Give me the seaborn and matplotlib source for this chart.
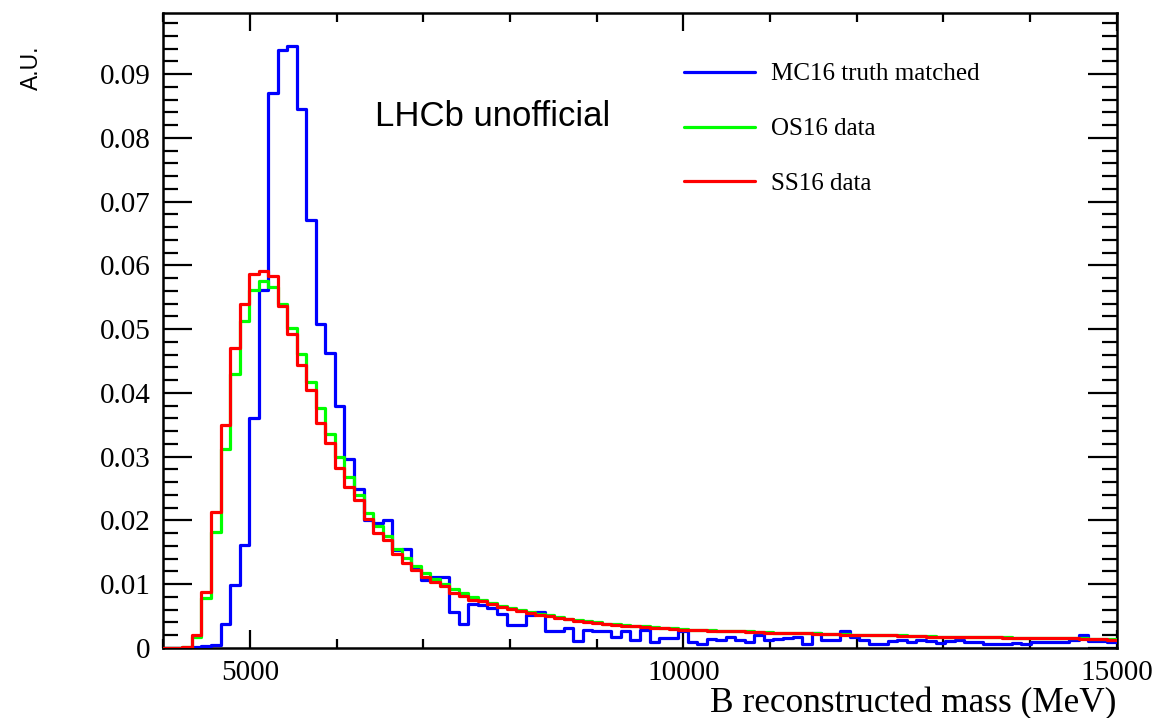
import numpy as np
import pandas as pd
import matplotlib
matplotlib.use("Agg")
import matplotlib.pyplot as plt
from matplotlib.lines import Line2D
from matplotlib.ticker import MultipleLocator, FixedLocator
import seaborn as sns

# Binning of the reconstructed B mass: 100 bins of 110 MeV from 4000 to 15000 MeV
mass_min = 4000.0
mass_max = 15000.0
n_bins = 100

# Normalised bin contents (A.U.)
mc16_truth = [
    0.0, 0.0, 0.0, 0.0002, 0.0003, 0.0005, 0.0038, 0.0099, 0.0161, 0.0360,
    0.0562, 0.0871, 0.0938, 0.0944, 0.0846, 0.0672, 0.0508, 0.0463, 0.0380, 0.0296,
    0.0250, 0.0200, 0.0196, 0.0201, 0.0154, 0.0156, 0.0124, 0.0106, 0.0111, 0.0111,
    0.0056, 0.0037, 0.0069, 0.0068, 0.0062, 0.0054, 0.0036, 0.0036, 0.0052, 0.0057,
    0.0027, 0.0027, 0.0031, 0.0011, 0.0028, 0.0027, 0.0027, 0.0017, 0.0026, 0.0012,
    0.0028, 0.0010, 0.0015, 0.0015, 0.0026, 0.0010, 0.0006, 0.0014, 0.0013, 0.0017,
    0.0012, 0.0010, 0.0020, 0.0012, 0.0014, 0.0016, 0.0018, 0.0007, 0.0024, 0.0013,
    0.0013, 0.0027, 0.0017, 0.0013, 0.0007, 0.0006, 0.0011, 0.0012, 0.0010, 0.0012,
    0.0011, 0.0008, 0.0011, 0.0012, 0.0009, 0.0009, 0.0006, 0.0006, 0.0006, 0.0008,
    0.0006, 0.0010, 0.0010, 0.0009, 0.0009, 0.0012, 0.0021, 0.0011, 0.0011, 0.0010,
]
os16_data = [
    0.0, 0.0, 0.0001, 0.0017, 0.0078, 0.0182, 0.0312, 0.0429, 0.0513, 0.0561,
    0.0575, 0.0566, 0.0539, 0.0502, 0.0461, 0.0418, 0.0376, 0.0336, 0.0299, 0.0268,
    0.0240, 0.0212, 0.0191, 0.0175, 0.0155, 0.0141, 0.0128, 0.0117, 0.0108, 0.0100,
    0.0092, 0.0086, 0.0080, 0.0075, 0.0071, 0.0066, 0.0063, 0.0060, 0.0056, 0.0053,
    0.0051, 0.0048, 0.0046, 0.0044, 0.0042, 0.0040, 0.0038, 0.0037, 0.0036, 0.0035,
    0.0034, 0.0033, 0.0032, 0.0031, 0.0030, 0.0029, 0.0029, 0.0028, 0.0027, 0.0027,
    0.0026, 0.0026, 0.0025, 0.0025, 0.0024, 0.0024, 0.0023, 0.0023, 0.0023, 0.0022,
    0.0022, 0.0022, 0.0021, 0.0021, 0.0021, 0.0020, 0.0020, 0.0020, 0.0019, 0.0019,
    0.0019, 0.0018, 0.0018, 0.0018, 0.0018, 0.0017, 0.0017, 0.0017, 0.0017, 0.0016,
    0.0016, 0.0016, 0.0016, 0.0015, 0.0015, 0.0015, 0.0015, 0.0014, 0.0014, 0.0014,
]
ss16_data = [
    0.0, 0.0, 0.0001, 0.0020, 0.0088, 0.0214, 0.0350, 0.0470, 0.0540, 0.0587,
    0.0591, 0.0583, 0.0536, 0.0493, 0.0444, 0.0405, 0.0353, 0.0321, 0.0283, 0.0253,
    0.0232, 0.0203, 0.0180, 0.0170, 0.0147, 0.0133, 0.0122, 0.0112, 0.0104, 0.0097,
    0.0087, 0.0081, 0.0076, 0.0073, 0.0069, 0.0064, 0.0061, 0.0058, 0.0055, 0.0052,
    0.0050, 0.0047, 0.0045, 0.0043, 0.0041, 0.0039, 0.0037, 0.0036, 0.0035, 0.0034,
    0.0033, 0.0032, 0.0031, 0.0030, 0.0029, 0.0029, 0.0028, 0.0027, 0.0027, 0.0026,
    0.0026, 0.0025, 0.0025, 0.0024, 0.0024, 0.0023, 0.0023, 0.0023, 0.0022, 0.0022,
    0.0022, 0.0021, 0.0021, 0.0021, 0.0020, 0.0020, 0.0020, 0.0019, 0.0019, 0.0019,
    0.0018, 0.0018, 0.0018, 0.0018, 0.0017, 0.0017, 0.0017, 0.0017, 0.0016, 0.0016,
    0.0016, 0.0016, 0.0015, 0.0015, 0.0015, 0.0015, 0.0014, 0.0014, 0.0014, 0.0013,
]

series_labels = ["MC16 truth matched", "OS16 data", "SS16 data"]
series_colors = ["#0000ff", "#00ff00", "#ff0000"]
x_tick_values = [5000, 10000, 15000]
y_tick_values = [0.0, 0.01, 0.02, 0.03, 0.04, 0.05, 0.06, 0.07, 0.08, 0.09]

bin_width = (mass_max - mass_min) / n_bins
edges = np.linspace(mass_min, mass_max, n_bins + 1)
centers = 0.5 * (edges[:-1] + edges[1:])

frames = []
for name, vals in zip(series_labels, [mc16_truth, os16_data, ss16_data]):
    frames.append(pd.DataFrame({"mass": centers, "weight": vals, "sample": name}))
df = pd.concat(frames, ignore_index=True)

sns.set_style("ticks")
plt.rcParams["font.family"] = ["Liberation Serif", "DejaVu Serif"]
plt.rcParams["text.color"] = "black"
plt.rcParams["xtick.color"] = "black"
plt.rcParams["ytick.color"] = "black"
plt.rcParams["xtick.labelcolor"] = "black"
plt.rcParams["ytick.labelcolor"] = "black"

fig = plt.figure(figsize=(11.57, 7.18), dpi=100)
ax = fig.add_axes([163.3 / 1157, 1 - 648 / 718, (1116.7 - 163.3) / 1157, (648 - 13) / 718])

for name, col in zip(series_labels, series_colors):
    sub = df[df["sample"] == name]
    sns.histplot(data=sub, x="mass", weights="weight", binwidth=bin_width,
                 binrange=(mass_min, mass_max), element="step", fill=False,
                 color=col, linewidth=2.3, zorder=3, ax=ax)

ax.set_xlim(mass_min, mass_max)
ax.set_ylim(0, 0.0996)

ax.xaxis.set_major_locator(FixedLocator(x_tick_values))
ax.xaxis.set_minor_locator(MultipleLocator(1000))
ax.yaxis.set_major_locator(FixedLocator(y_tick_values))
ax.yaxis.set_minor_locator(MultipleLocator(0.002))
ax.set_xticklabels([str(v) for v in x_tick_values])
ax.set_yticklabels(["0"] + [f"{v:.2f}" for v in y_tick_values[1:]])

ax.tick_params(which="both", direction="in", top=True, right=True, width=1.6, color="black")
ax.tick_params(axis="x", which="major", length=13, labelsize=21, pad=8.5)
ax.tick_params(axis="x", which="minor", length=6.5)
ax.tick_params(axis="y", which="major", length=21, labelsize=21, pad=9)
ax.tick_params(axis="y", which="minor", length=11)
for sp in ax.spines.values():
    sp.set_linewidth(1.8)
    sp.set_color("black")

ax.set_xlabel("B reconstructed mass (MeV)", fontsize=25.4, ha="right", color="black")
ax.xaxis.set_label_coords(1.0, -0.061)
ax.set_ylabel("")

fig.text(31 / 1157, 1 - 46 / 718, "A.U.", rotation=90, ha="center", va="top",
         fontsize=16.5, color="black", family=["Liberation Sans", "DejaVu Sans"])
fig.text(375 / 1157, 1 - 117 / 718, "LHCb unofficial", ha="left", va="center",
         fontsize=25, color="black", family=["Liberation Sans", "DejaVu Sans"])

handles = [Line2D([0], [0], color=c, linewidth=2.3) for c in series_colors]
leg = ax.legend(handles, series_labels, loc="upper left",
                bbox_to_anchor=(684 / 1157, 1 - 63 / 718), bbox_transform=fig.transFigure,
                frameon=False, fontsize=18, handlelength=2.84, handletextpad=0.64,
                labelspacing=1.29, borderpad=0, borderaxespad=0)
for t in leg.get_texts():
    t.set_color("black")

fig.savefig("out.png", dpi=100)
